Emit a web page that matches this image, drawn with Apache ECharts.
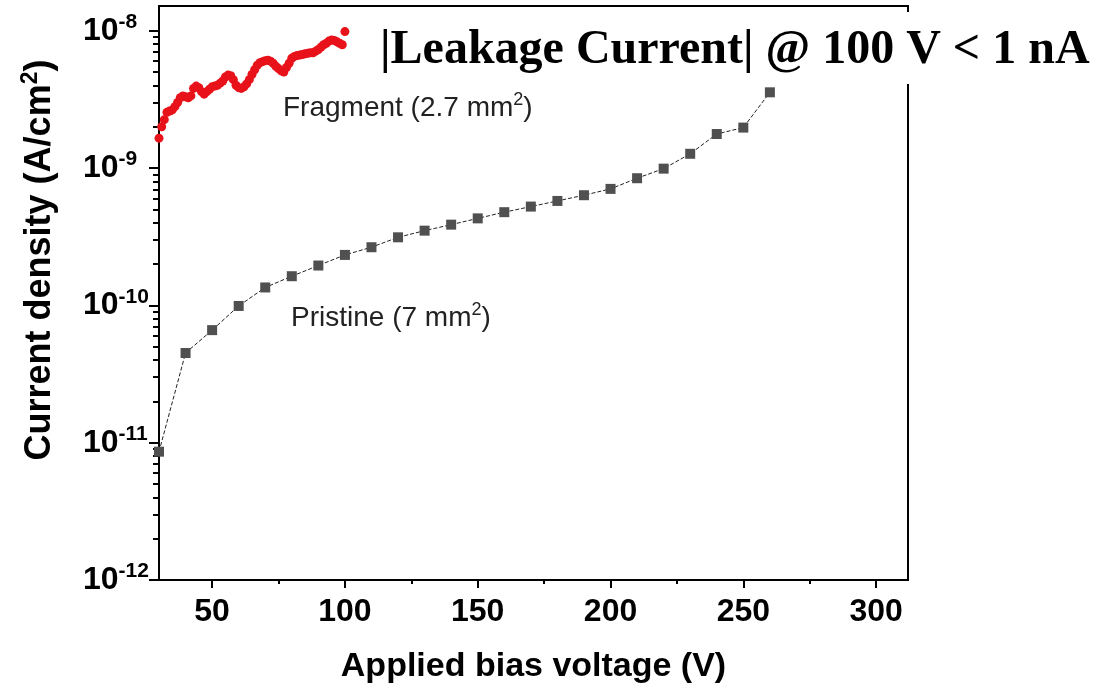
<!DOCTYPE html>
<html>
<head>
<meta charset="utf-8">
<script src="https://cdn.jsdelivr.net/npm/echarts@6/dist/echarts.min.js"></script>
<style>
html, body { margin: 0; padding: 0; background: #fff; }
#main { width: 1101px; height: 688px; }
</style>
</head>
<body>
<div id="main"></div>
<script>
// Pristine (7 mm2), every 10 V
var pristineV = [30, 40, 50, 60, 70, 80, 90, 100, 110, 120, 130, 140, 150, 160, 170, 180, 190, 200, 210, 220, 230, 240, 250, 260];
var pristineJ = [8.6e-12, 4.5e-11, 6.6e-11, 9.9e-11, 1.35e-10, 1.63e-10, 1.95e-10, 2.33e-10, 2.65e-10, 3.13e-10, 3.5e-10, 3.87e-10,
  4.3e-10, 4.77e-10, 5.24e-10, 5.76e-10, 6.34e-10, 7.05e-10, 8.43e-10, 9.9e-10, 1.27e-9, 1.77e-9, 1.97e-9, 3.56e-9];

// Fragment (2.7 mm2), every 1 V
var fragmentV = [30, 31, 32, 33, 34, 35, 36, 37, 38, 39, 40, 41, 42, 43, 44, 45, 46, 47, 48, 49,
  50, 51, 52, 53, 54, 55, 56, 57, 58, 59, 60, 61, 62, 63, 64, 65, 66, 67, 68, 69,
  70, 71, 72, 73, 74, 75, 76, 77, 78, 79, 80, 81, 82, 83, 84, 85, 86, 87, 88, 89,
  90, 91, 92, 93, 94, 95, 96, 97, 98, 99, 100];
var fragmentJ = [1.65e-9, 2.0e-9, 2.25e-9, 2.55e-9, 2.6e-9, 2.65e-9, 2.8e-9, 3.0e-9, 3.25e-9, 3.35e-9,
  3.3e-9, 3.25e-9, 3.35e-9, 3.8e-9, 3.95e-9, 3.85e-9, 3.6e-9, 3.45e-9, 3.6e-9, 3.75e-9,
  3.9e-9, 3.95e-9, 4.0e-9, 4.15e-9, 4.3e-9, 4.6e-9, 4.75e-9, 4.7e-9, 4.4e-9, 4.0e-9,
  3.85e-9, 3.8e-9, 3.9e-9, 4.1e-9, 4.4e-9, 4.8e-9, 5.2e-9, 5.6e-9, 5.85e-9, 5.95e-9,
  6.05e-9, 6.1e-9, 6.0e-9, 5.8e-9, 5.5e-9, 5.3e-9, 5.1e-9, 5.0e-9, 5.4e-9, 5.8e-9,
  6.3e-9, 6.5e-9, 6.6e-9, 6.65e-9, 6.7e-9, 6.8e-9, 6.85e-9, 6.9e-9, 6.9e-9, 7.1e-9,
  7.3e-9, 7.6e-9, 7.9e-9, 8.1e-9, 8.4e-9, 8.55e-9, 8.5e-9, 8.3e-9, 8.1e-9, 7.9e-9, 9.85e-9];

// ticks
var xMajor = [50, 100, 150, 200, 250, 300];
var xMinor = [75, 125, 175, 225, 275];
var yDecades = [-12, -11, -10, -9, -8];
var yMinorMult = [2, 3, 4, 5, 6, 7, 8, 9];

var sans = '"Liberation Sans", Arial, sans-serif';
var serif = '"Liberation Serif", "Times New Roman", serif';

// log10 of the data, drawn on a linear axis
function toPairs(xs, ys) {
  var out = [];
  for (var i = 0; i < xs.length; i++) {
    out.push([xs[i], Math.log10(ys[i])]);
  }
  return out;
}

var yMinor = [];
for (var d = 0; d < yDecades.length - 1; d++) {
  for (var k = 0; k < yMinorMult.length; k++) {
    yMinor.push(yDecades[d] + Math.log10(yMinorMult[k]));
  }
}

var myChart = echarts.init(document.getElementById('main'));

var option = {
  backgroundColor: '#fff',
  animation: false,
  title: {
    text: '|Leakage Current| @ 100 V < 1 nA',
    left: 370,
    top: 12,
    padding: [11, 12, 5, 10],
    backgroundColor: '#fff',
    z: 10,
    textStyle: {
      fontFamily: serif,
      fontWeight: 'bold',
      fontSize: 48,
      lineHeight: 56,
      color: '#000'
    }
  },
  grid: {
    left: 159,
    right: 193,
    top: 6,
    bottom: 108,
    outerBoundsMode: 'none',
    show: true,
    borderColor: '#000',
    borderWidth: 2,
    backgroundColor: 'transparent'
  },
  xAxis: [{
    type: 'value',
    min: 30,
    max: 312,
    position: 'bottom',
    name: 'Applied bias voltage (V)',
    nameLocation: 'middle',
    nameGap: 70,
    nameTextStyle: { fontFamily: sans, fontWeight: 'bold', fontSize: 34, color: '#000' },
    axisLine: { lineStyle: { color: '#000', width: 2 } },
    axisTick: { customValues: xMajor, length: 8, lineStyle: { color: '#000', width: 2 } },
    axisLabel: {
      customValues: xMajor,
      margin: 16,
      fontFamily: sans, fontWeight: 'bold', fontSize: 32, color: '#000'
    },
    splitLine: { show: false }
  }, {
    // minor x ticks
    type: 'value',
    min: 30,
    max: 312,
    position: 'bottom',
    axisLine: { show: false },
    axisTick: { customValues: xMinor, length: 4, lineStyle: { color: '#000', width: 2 } },
    axisLabel: { show: false },
    splitLine: { show: false }
  }],
  yAxis: [{
    type: 'value',
    min: -12,
    max: -7.82,
    interval: 1,
    position: 'left',
    axisLine: { lineStyle: { color: '#000', width: 2 } },
    axisTick: { customValues: yDecades, length: 10, lineStyle: { color: '#000', width: 2 } },
    axisLabel: {
      customValues: yDecades,
      margin: 76,
      align: 'left',
      formatter: function(v) {
        return '{a|10}{b|' + v + '}';
      },
      rich: {
        a: { fontFamily: sans, fontWeight: 'bold', fontSize: 32, lineHeight: 38, color: '#000' },
        b: { fontFamily: sans, fontWeight: 'bold', fontSize: 21, lineHeight: 24, verticalAlign: 'top', color: '#000' }
      }
    },
    splitLine: { show: false }
  }, {
    // log minor ticks
    type: 'value',
    min: -12,
    max: -7.82,
    position: 'left',
    axisLine: { show: false },
    axisTick: { customValues: yMinor, length: 6, lineStyle: { color: '#000', width: 2 } },
    axisLabel: { show: false },
    splitLine: { show: false }
  }],
  graphic: [{
    type: 'text',
    x: 40,
    y: 260,
    rotation: Math.PI / 2,
    style: {
      text: '{n|Current density (A/cm}{s|2}{n|)}',
      align: 'center',
      verticalAlign: 'middle',
      rich: {
        n: { fontFamily: sans, fontWeight: 'bold', fontSize: 36, lineHeight: 42, fill: '#000' },
        s: { fontFamily: sans, fontWeight: 'bold', fontSize: 23, lineHeight: 24, verticalAlign: 'top', fill: '#000' }
      }
    }
  }, {
    type: 'text',
    x: 283,
    y: 108,
    style: {
      text: '{n|Fragment (2.7 mm}{s|2}{n|)}',
      align: 'left',
      verticalAlign: 'middle',
      rich: {
        n: { fontFamily: sans, fontSize: 28, lineHeight: 34, fill: '#222' },
        s: { fontFamily: sans, fontSize: 18, lineHeight: 20, verticalAlign: 'top', fill: '#222' }
      }
    }
  }, {
    type: 'text',
    x: 291,
    y: 318,
    style: {
      text: '{n|Pristine (7 mm}{s|2}{n|)}',
      align: 'left',
      verticalAlign: 'middle',
      rich: {
        n: { fontFamily: sans, fontSize: 28, lineHeight: 34, fill: '#222' },
        s: { fontFamily: sans, fontSize: 18, lineHeight: 20, verticalAlign: 'top', fill: '#222' }
      }
    }
  }],
  series: [{
    name: 'Pristine',
    type: 'line',
    data: toPairs(pristineV, pristineJ),
    symbol: 'rect',
    symbolSize: 10,
    showAllSymbol: true,
    itemStyle: { color: '#505050' },
    lineStyle: { color: '#222', width: 1, type: [4, 2] },
    z: 3
  }, {
    name: 'Fragment',
    type: 'scatter',
    data: toPairs(fragmentV, fragmentJ),
    symbol: 'circle',
    symbolSize: 9,
    itemStyle: { color: '#e8121a', opacity: 1 },
    z: 4
  }]
};

myChart.setOption(option);
</script>
</body>
</html>
